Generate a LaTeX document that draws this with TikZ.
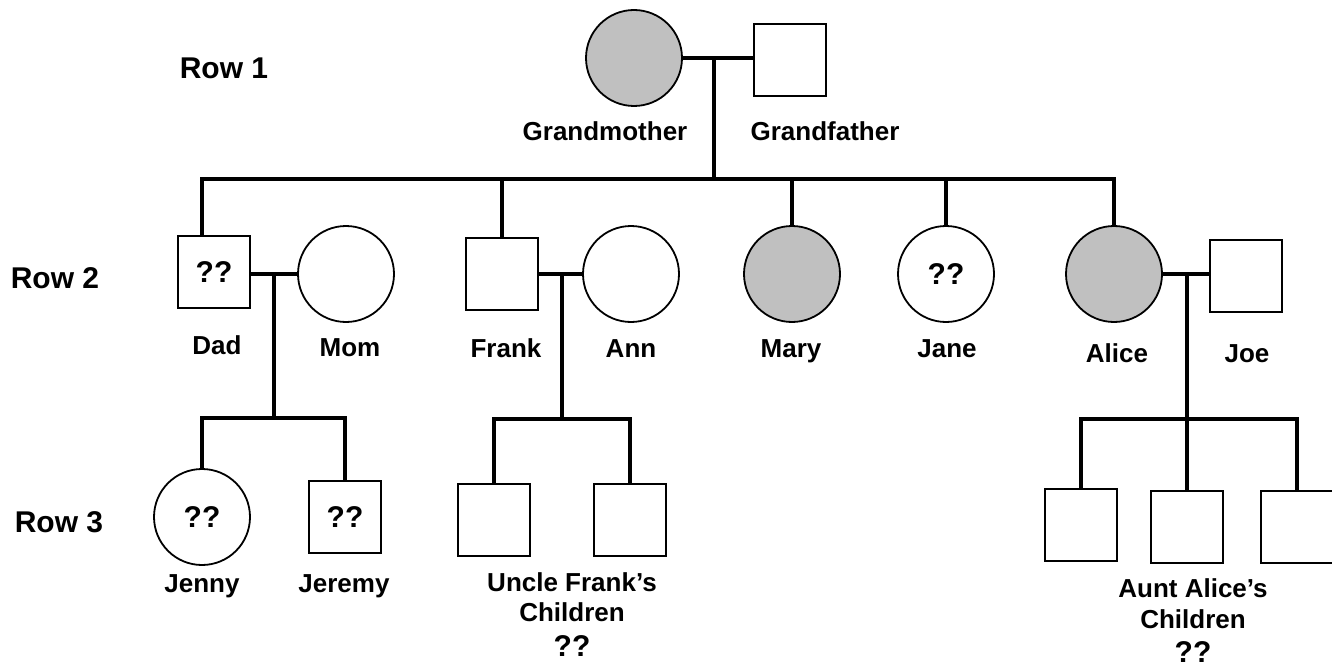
\documentclass[tikz,border=0pt]{standalone}
\usepackage{fontspec}
\setmainfont{Liberation Sans}
\definecolor{affgray}{RGB}{192,192,192}
\begin{document}
\begin{tikzpicture}[x=1pt,y=-1pt,
  fem/.style={circle,draw=black,line width=1.8pt,minimum size=96pt,inner sep=0pt,fill=white},
  mal/.style={rectangle,draw=black,line width=1.8pt,minimum size=72pt,inner sep=0pt,fill=white},
  aff/.style={fill=affgray},
  lbl/.style={font=\bfseries\fontsize{26}{30}\selectfont,anchor=base,inner sep=0pt},
  rowlbl/.style={font=\bfseries\fontsize{30}{34}\selectfont,anchor=base,inner sep=0pt},
  qq/.style={font=\bfseries\fontsize{30}{34}\selectfont},
  qqlbl/.style={font=\bfseries\fontsize{30}{34}\selectfont,anchor=base,inner sep=0pt},
  link/.style={line width=3.5pt,line join=miter,draw=black}
]
\useasboundingbox (0,0) rectangle (1332,663);
\fill[white] (0,0) rectangle (1332,663);

% Row labels
\node[rowlbl] (r1) at (224,79) {Row 1};
\node[rowlbl] (r2) at (55,288) {Row 2};
\node[rowlbl] (r3) at (59,532) {Row 3};

% Row 1
\node[fem,aff] (gm) at (634,58) {};
\node[mal] (gf) at (790,60) {};
\node[lbl] (gml) at (605,141) {Grandmother};
\node[lbl] (gfl) at (825,141) {Grandfather};

% Row 2
\node[mal,qq] (dad) at (214,272) {??};
\node[fem] (mom) at (346,274) {};
\node[mal] (frank) at (502,274) {};
\node[fem] (ann) at (631,274) {};
\node[fem,aff] (mary) at (792,274) {};
\node[fem,qq] (jane) at (946,274) {??};
\node[fem,aff] (alice) at (1114,274) {};
\node[mal] (joe) at (1246,276) {};

\node[lbl] (dadl) at (217,354) {Dad};
\node[lbl] (moml) at (350,356) {Mom};
\node[lbl] (frankl) at (506,357) {Frank};
\node[lbl] (annl) at (631,357) {Ann};
\node[lbl] (maryl) at (791,357) {Mary};
\node[lbl] (janel) at (947,357) {Jane};
\node[lbl] (alicel) at (1117,362) {Alice};
\node[lbl] (joel) at (1247,362) {Joe};

% Row 3
\node[fem,qq] (jenny) at (202,517) {??};
\node[mal,qq] (jeremy) at (345,517) {??};
\node[mal] (fc1) at (494,520) {};
\node[mal] (fc2) at (630,520) {};
\node[mal] (ac1) at (1081,525) {};
\node[mal] (ac2) at (1187,527) {};
\node[mal] (ac3) at (1297,527) {};

\node[lbl] (jennyl) at (202,592) {Jenny};
\node[lbl] (jeremyl) at (344,592) {Jeremy};
\node[lbl] (ufc1) at (572,591) {Uncle Frank’s};
\node[lbl] (ufc2) at (572,621) {Children};
\node[qqlbl] (ufc3) at (572,656) {??};
\node[lbl] (aac1) at (1193,597) {Aunt Alice’s};
\node[lbl] (aac2) at (1193,628) {Children};
\node[qqlbl] (aac3) at (1193,662) {??};

% helper coordinates
\coordinate (gmm) at (714,58);
\coordinate (sib) at (714,179);
\coordinate (dadtop) at (202,236);
\coordinate (dmm) at (274,274);
\coordinate (dbar) at (274,418);
\coordinate (fmm) at (562,274);
\coordinate (fbar) at (562,419);
\coordinate (amm) at (1187,274);
\coordinate (abar) at (1187,419);

% connectors
\draw[link] (gm.east) -- (gf.west |- gm.east);
\draw[link] (gmm) -- (sib);
\draw[link] (dadtop) -- (dadtop |- sib) -- (alice.north |- sib) -- (alice.north);
\draw[link] (frank.north |- sib) -- (frank.north);
\draw[link] (mary.north |- sib) -- (mary.north);
\draw[link] (jane.north |- sib) -- (jane.north);

\draw[link] (dad.east |- dmm) -- (mom.west);
\draw[link] (dmm) -- (dbar);
\draw[link] (jenny.north) -- (jenny.north |- dbar) -- (jeremy.north |- dbar) -- (jeremy.north);

\draw[link] (frank.east) -- (ann.west);
\draw[link] (fmm) -- (fbar);
\draw[link] (fc1.north) -- (fc1.north |- fbar) -- (fc2.north |- fbar) -- (fc2.north);

\draw[link] (alice.east) -- (joe.west |- alice.east);
\draw[link] (amm) -- (abar);
\draw[link] (ac1.north) -- (ac1.north |- abar) -- (ac3.north |- abar) -- (ac3.north);
\draw[link] (abar) -- (ac2.north);
\end{tikzpicture}
\end{document}
